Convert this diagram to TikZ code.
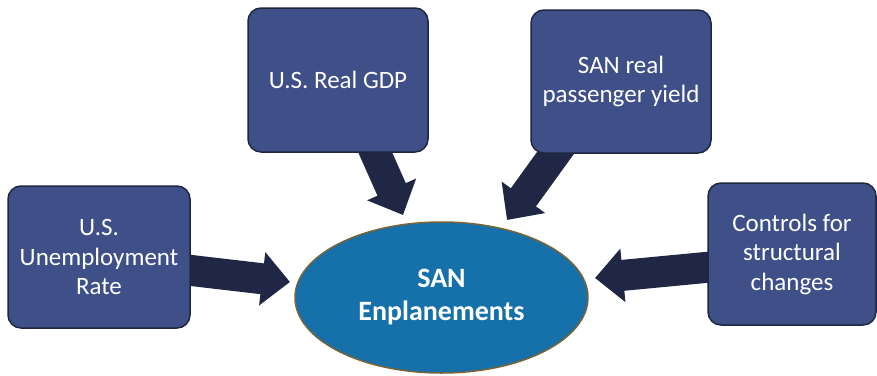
\documentclass[tikz,border=0pt]{standalone}
\usepackage{fontspec}
\setmainfont{Carlito}
\usetikzlibrary{arrows.meta,calc,shapes.geometric}
\definecolor{boxfill}{RGB}{63,80,137}
\definecolor{boxline}{RGB}{30,38,64}
\definecolor{arrowcol}{RGB}{31,39,68}
\definecolor{ellfill}{RGB}{22,112,170}
\definecolor{ellline}{RGB}{120,100,55}
\begin{document}
\begin{tikzpicture}[x=1pt,y=-1pt,
  factorbox/.style={draw=boxline,line width=1.5pt,fill=boxfill,rounded corners=13pt,
    text=white,align=center,inner sep=0pt,
    font=\fontsize{25}{29.5}\selectfont},
  target/.style={ellipse,draw=ellline,line width=1.5pt,fill=ellfill,text=white,
    align=center,inner sep=0pt,font=\bfseries\fontsize{28}{33}\selectfont},
  bigarrow/.style={draw=arrowcol,line width=31pt,
    -{Triangle[width=52pt,length=28pt,fill=arrowcol]}}]
\useasboundingbox (0,0) rectangle (877,375);
% tips
\coordinate (t1) at (290,282);
\coordinate (t2) at (403,215);
\coordinate (t3) at (507,220);
\coordinate (t4) at (595,278);
% box positions
\path (99,257) coordinate (pun) (338,80) coordinate (pgdp) (621,81.5) coordinate (pyld) (792,254) coordinate (pctl);
% arrows drawn first, boxes cover their starts
\draw[bigarrow] ($(pun)+(71,11)$) -- (t1);
\draw[bigarrow] ($(pgdp)+(29,54)$) -- (t2);
\draw[bigarrow] ($(pyld)+(-50,50)$) -- (t3);
\draw[bigarrow] ($(pctl)+(-50,10)$) -- (t4);
\node[factorbox,minimum width=182pt,minimum height=142pt] (un) at (pun) {U.S.\\Unemployment\\Rate};
\node[factorbox,minimum width=180pt,minimum height=144pt] (gdp) at (pgdp) {U.S. Real GDP};
\node[factorbox,minimum width=180pt,minimum height=143pt] (yld) at (pyld) {SAN real\\passenger yield};
\node[factorbox,minimum width=168pt,minimum height=142pt] (ctl) at (pctl) {Controls for\\structural\\changes};
\node[target,minimum width=293pt,minimum height=151pt] (san) at (441.5,297.5) {SAN\\Enplanements};
\end{tikzpicture}
\end{document}
